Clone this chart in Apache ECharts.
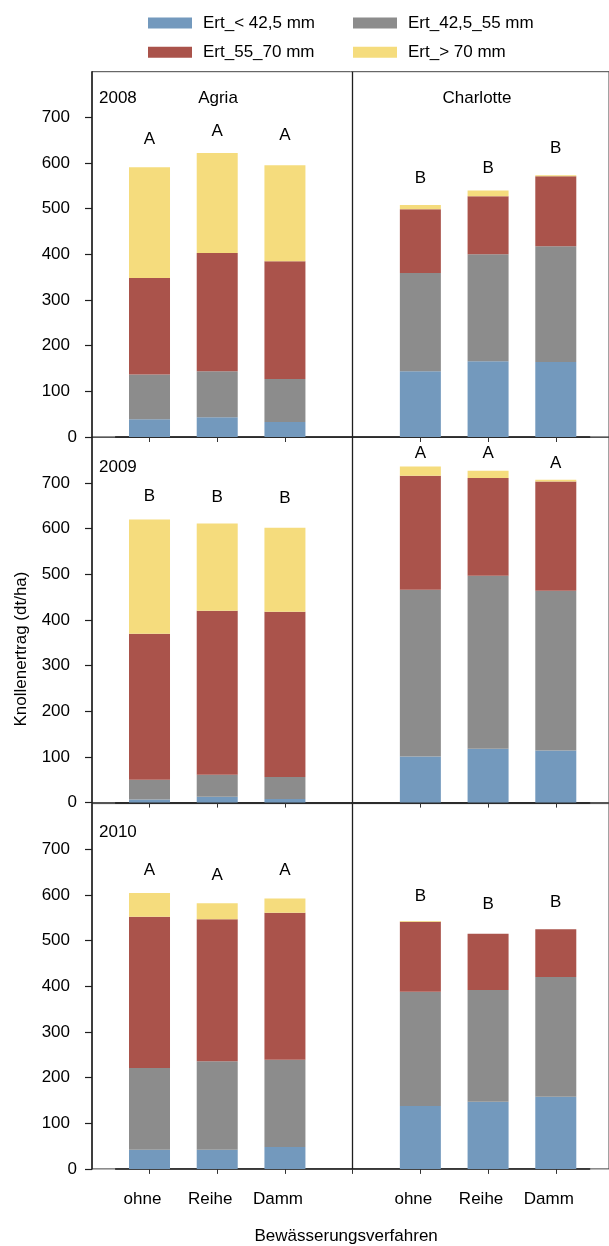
<!DOCTYPE html>
<html>
<head>
<meta charset="utf-8">
<script src="https://cdn.jsdelivr.net/npm/echarts@6/dist/echarts.min.js"></script>
<style>
  html, body { margin: 0; padding: 0; background: #fff; }
  #chart { width: 609px; height: 1246px; }
</style>
</head>
<body>
<div id="chart"></div>
<script>
// Irrigation methods (x categories) and grouping
const methods = ['ohne', 'Reihe', 'Damm'];
const years = ['2008', '2009', '2010'];
const varieties = ['Agria', 'Charlotte'];
const sizeClasses = ['Ert_< 42,5 mm', 'Ert_42,5_55 mm', 'Ert_55_70 mm', 'Ert_> 70 mm'];
const yTicks = [0, 100, 200, 300, 400, 500, 600, 700];

// Tuber yield (dt/ha) per size class: rows = size classes, columns = ohne, Reihe, Damm
const agria2008     = [[39, 43, 33], [98, 101, 94], [211, 259, 258], [243, 219, 210]];
const charlotte2008 = [[144, 166, 164], [215, 234, 254], [140, 127, 153], [9, 13, 2]];
const agria2009     = [[7, 13, 8], [43, 48, 48], [320, 359, 362], [250, 191, 184]];
const charlotte2009 = [[101, 118, 114], [365, 379, 350], [250, 214, 239], [20, 16, 4]];
const agria2010     = [[42, 42, 48], [179, 194, 191], [331, 311, 322], [52, 35, 31]];
const charlotte2010 = [[138, 147, 158], [250, 245, 262], [153, 123, 105], [2, 0, 0]];

// Significance letters and the level (dt/ha) at which each one sits
const lettersAgria     = [['A', 'A', 'A'], ['B', 'B', 'B'], ['A', 'A', 'A']];
const lettersCharlotte = [['B', 'B', 'B'], ['A', 'A', 'A'], ['B', 'B', 'B']];
const letterLevelAgria     = [[652, 670, 661], [671, 668, 667], [654, 642, 654]];
const letterLevelCharlotte = [[566, 588, 632], [764, 764, 742], [598, 580, 584]];

const agriaByYear = [agria2008, agria2009, agria2010];
const charlotteByYear = [charlotte2008, charlotte2009, charlotte2010];

// ---- styling / layout ----
const FONT = '"Liberation Sans", Arial, sans-serif';
const TXT = '#000';
const LINE = '#1e1e1e';
const colors = ['#7399bd', '#8c8c8c', '#aa534b', '#f5dc7d'];
const rowTop = [71.7, 437.3, 803.6];
const rowH = 365.3;
const frameLeft = 92;
const barLeft = 115.65;
const barRight = 19.35;

// one row = Agria methods, an empty gap slot, Charlotte methods
const rowCats = methods.concat([''], methods);

const grid = [], xAxis = [], yAxis = [], series = [], graphic = [];

// panel frames (drawn first, underneath)
for (let r = 0; r < 3; r++) {
  grid.push({
    left: frameLeft, right: -5, top: rowTop[r], height: rowH,
    show: true, borderColor: '#444', borderWidth: 1, backgroundColor: 'transparent', z: 0
  });
  xAxis.push({ type: 'value', gridIndex: r, show: false });
  yAxis.push({ type: 'value', gridIndex: r, show: false });
}

for (let r = 0; r < 3; r++) {
  const g = 3 + r;
  grid.push({ left: barLeft, right: barRight, top: rowTop[r], height: rowH });
  xAxis.push({
    type: 'category', gridIndex: g, data: rowCats, boundaryGap: true,
    axisLine: { show: true, lineStyle: { color: LINE, width: 1.5 } },
    axisTick: { show: true, alignWithLabel: true, length: 5, lineStyle: { color: '#333' } },
    axisLabel: {
      show: r === 2, interval: 0, margin: 22, padding: [0, 14, 0, 0],
      fontSize: 17, fontFamily: FONT, color: TXT
    },
    name: r === 2 ? 'Bewässerungsverfahren' : '',
    nameLocation: 'middle', nameGap: 59,
    nameTextStyle: { fontSize: 17, fontFamily: FONT, color: TXT, padding: [0, 13, 0, 0] }
  });
  yAxis.push({
    type: 'value', gridIndex: g, min: 0, max: 800, interval: 100, offset: barLeft - frameLeft,
    axisLine: { show: true, lineStyle: { color: LINE, width: 1.5 } },
    axisTick: { show: true, length: 7, customValues: yTicks, lineStyle: { color: LINE, width: 1.2 } },
    axisLabel: {
      customValues: yTicks, margin: 15, fontSize: 17, fontFamily: FONT, color: TXT,
      formatter: v => (v === 0 ? '{z|0}' : '{n|' + v + '}'),
      rich: {
        z: { fontSize: 17, fontFamily: FONT, color: TXT },
        n: { fontSize: 17, fontFamily: FONT, color: TXT, padding: [0, 7, 0, 0] }
      }
    },
    splitLine: { show: false }
  });

  const agria = agriaByYear[r], charlotte = charlotteByYear[r];
  for (let c = 0; c < 4; c++) {
    const s = {
      name: sizeClasses[c], type: 'bar', stack: 'row' + r,
      xAxisIndex: g, yAxisIndex: g, barWidth: 41,
      itemStyle: { color: colors[c] },
      data: agria[c].concat([null], charlotte[c]),
      animation: false
    };
    if (c === 0) {
      // divider between the two varieties
      s.markLine = {
        silent: true, symbol: ['none', 'none'], label: { show: false },
        lineStyle: { color: LINE, width: 1.3, type: 'solid' },
        data: [{ xAxis: 3 }], animation: false
      };
    }
    series.push(s);
  }
  // significance letters
  const lv = letterLevelAgria[r].concat([null], letterLevelCharlotte[r]);
  const lt = lettersAgria[r].concat([''], lettersCharlotte[r]);
  series.push({
    name: 'letters' + r, type: 'scatter', xAxisIndex: g, yAxisIndex: g,
    symbolSize: 0, silent: true, animation: false,
    itemStyle: { opacity: 1 },
    data: lv.map((v, i) => ({ value: v, letter: lt[i] })),
    label: {
      show: true, position: 'inside', fontSize: 17, fontFamily: FONT, color: TXT, opacity: 1,
      formatter: p => p.data.letter
    }
  });
}

// panel captions
const yearY = [98.5, 467.5, 832];
years.forEach((y, r) => {
  graphic.push({
    type: 'text', x: 99, y: yearY[r],
    style: { text: y, font: '17px ' + FONT, fill: TXT, align: 'left', verticalAlign: 'middle' }
  });
});
graphic.push({
  type: 'text', x: 218, y: 98.5,
  style: { text: varieties[0], font: '17px ' + FONT, fill: TXT, align: 'center', verticalAlign: 'middle' }
});
graphic.push({
  type: 'text', x: 477, y: 98.5,
  style: { text: varieties[1], font: '17px ' + FONT, fill: TXT, align: 'center', verticalAlign: 'middle' }
});
graphic.push({
  type: 'text', x: 21.5, y: 649, rotation: Math.PI / 2,
  style: { text: 'Knollenertrag (dt/ha)', font: '17px ' + FONT, fill: TXT, align: 'center', verticalAlign: 'middle' }
});

const legendBase = {
  orient: 'vertical', top: 14.5, padding: 0, itemWidth: 44, itemHeight: 11, itemGap: 12.3, icon: 'rect',
  selectedMode: false,
  textStyle: { fontSize: 17, fontFamily: FONT, color: TXT, padding: [0, 0, 0, 6] }
};

const chart = echarts.init(document.getElementById('chart'), null, { renderer: 'canvas' });
chart.setOption({
  backgroundColor: '#fff',
  animation: false,
  legend: [
    Object.assign({}, legendBase, { left: 148, data: [sizeClasses[0], sizeClasses[2]] }),
    Object.assign({}, legendBase, { left: 353, data: [sizeClasses[1], sizeClasses[3]] })
  ],
  grid, xAxis, yAxis, series, graphic
});
</script>
</body>
</html>
